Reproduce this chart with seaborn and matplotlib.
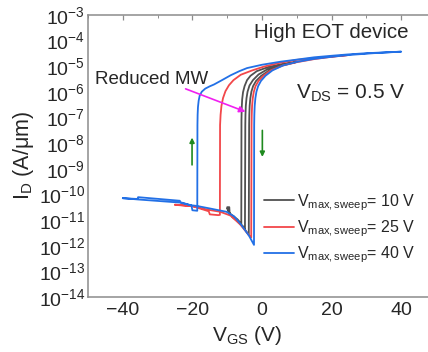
import matplotlib
matplotlib.use("Agg")
import matplotlib.pyplot as plt
import matplotlib.ticker as mticker
import numpy as np
import pandas as pd
import seaborn as sns

# values: V_GS (V) and log10(I_D / (A/um)), in sweep order
vgs_10 = [-10, -9.5, -8.5, -7, -5.5, -4.5, -3.8,
          -3.7, -3.65, -3.55, -3.35, -3.05, -2.55, -1.7, -0.2, 2, 5, 10,
          6, 2, -1.5, -3.3, -4.3, -5.0, -5.45, -5.7, -5.83, -5.9,
          -5.95, -7, -8.5, -9.3, -9.4, -10,
          -9.5, -8.5, -7, -5.5, -4.9,
          -4.8, -4.75, -4.65, -4.45, -4.15, -3.6, -2.6, -1, 1.5, 5, 10]
log_id_10 = [-10.55, -10.7, -10.88, -11.05, -11.25, -11.45, -11.58,
             -7.3, -6.9, -6.55, -6.25, -6.0, -5.78, -5.58, -5.38, -5.18, -5.0, -4.84,
             -4.92, -5.03, -5.2, -5.38, -5.55, -5.78, -6.02, -6.3, -6.65, -7.1,
             -11.15, -10.98, -10.82, -10.75, -10.50, -10.50,
             -10.7, -10.88, -11.05, -11.25, -11.35,
             -7.3, -6.9, -6.55, -6.25, -6.0, -5.76, -5.55, -5.33, -5.13, -4.97, -4.84]

vgs_25 = [-25, -20, -15.5, -12, -9, -6.3, -3.5, -3.1,
          -3.0, -2.95, -2.85, -2.65, -2.35, -1.85, -1.0, 0.4, 2.5, 6, 10, 15, 20, 25,
          20, 15, 10, 5, 0.6, -3, -6.1, -8.2, -9.5, -10.5, -11.2, -11.65, -11.9, -12.05,
          -12.1, -12.6, -15, -15.3, -20, -25]
log_id_25 = [-10.40, -10.46, -10.60, -10.68, -10.83, -11.17, -11.63, -11.68,
             -7.3, -6.9, -6.55, -6.25, -6.0, -5.78, -5.58, -5.38, -5.17, -4.98, -4.85, -4.73, -4.64, -4.57,
             -4.63, -4.69, -4.76, -4.88, -5.02, -5.18, -5.34, -5.55, -5.75, -5.98, -6.25, -6.55, -6.9, -7.3,
             -10.80, -10.81, -10.78, -10.66, -10.46, -10.41]

vgs_40 = [-40, -35.6, -23.6, -20.7, -18.8, -15, -10.2, -8.0, -6.0, -3.7, -2.3,
          -2.25, -2.2, -2.1, -1.9, -1.6, -1.1, -0.3, 1, 3, 6, 10, 15, 20, 25, 32, 40,
          30, 24.5, 20, 15, 10, 5.4, 0, -4.3, -6.5, -9, -11.5, -13.8, -15.0, -16.3, -17.3, -17.9, -18.2,
          -18.4, -18.5, -18.55,
          -18.6, -20.0, -20.3, -23.6, -23.6, -35.6, -35.8, -40]
log_id_40 = [-10.15, -10.20, -10.32, -10.42, -10.45, -10.55, -10.68, -10.86, -11.18, -11.62, -11.97,
             -7.3, -6.9, -6.55, -6.25, -6.0, -5.78, -5.58, -5.38, -5.17, -4.98, -4.84, -4.72, -4.64, -4.57,
             -4.5, -4.44,
             -4.50, -4.55, -4.60, -4.66, -4.75, -4.83, -4.95, -5.08, -5.2, -5.36, -5.55, -5.72, -5.79, -5.88,
             -6.0, -6.15, -6.35, -6.6, -6.9, -7.3,
             -10.64, -10.62, -10.43, -10.30, -10.25, -10.11, -10.18, -10.15]

sweep_labels = [r"V$_{\mathregular{max,sweep}}$= 10 V",
                r"V$_{\mathregular{max,sweep}}$= 25 V",
                r"V$_{\mathregular{max,sweep}}$= 40 V"]
sweep_colors = ["#505050", "#f2474a", "#2270e6"]

x_ticks = [-40, -20, 0, 20, 40]

frames = []
for lab, v, li in zip(sweep_labels, [vgs_10, vgs_25, vgs_40], [log_id_10, log_id_25, log_id_40]):
    frames.append(pd.DataFrame({"vgs": v, "id": 10.0 ** np.array(li), "sweep": lab}))
df = pd.concat(frames, ignore_index=True)

sns.set_style("white")
plt.rcParams["font.family"] = ["Liberation Sans", "DejaVu Sans"]
plt.rcParams["mathtext.fontset"] = "custom"
plt.rcParams["mathtext.rm"] = "Liberation Sans"
plt.rcParams["mathtext.it"] = "Liberation Sans:italic"
plt.rcParams["mathtext.bf"] = "Liberation Sans:bold"

fig = plt.figure(figsize=(4.28, 3.52), dpi=100)
ax = fig.add_axes([88 / 428, 1 - 297 / 352, 348 / 428, 282.3 / 352])

sns.lineplot(data=df, x="vgs", y="id", hue="sweep", hue_order=sweep_labels,
             palette=sweep_colors, sort=False, estimator=None, lw=1.3, ax=ax)

ax.set_yscale("log")
ax.set_xlim(-50, 50)
ax.set_ylim(1e-14, 1e-3)
ax.set_xticks(x_ticks)
ax.xaxis.set_minor_locator(mticker.MultipleLocator(10))
ax.yaxis.set_major_locator(mticker.LogLocator(base=10, numticks=30))
ax.yaxis.set_minor_locator(mticker.LogLocator(base=10, subs=np.arange(2, 10), numticks=30))
ax.yaxis.set_minor_formatter(mticker.NullFormatter())

for sp in ax.spines.values():
    sp.set_color("#8c8c8c")
    sp.set_linewidth(1.1)
ax.tick_params(which="both", direction="in", top=True, right=True, color="#8c8c8c", labelsize=14)
ax.tick_params(which="major", length=3.5, width=0.9)
ax.tick_params(which="minor", length=1.8, width=0.7)
ax.tick_params(axis="y", pad=2)

ax.set_xlabel(r"V$_{\mathregular{GS}}$ (V)", fontsize=15)
ax.set_ylabel(r"I$_{\mathregular{D}}$ (A/μm)", fontsize=15.5)
ax.xaxis.set_label_coords(0.458, -0.095)
ax.yaxis.set_label_coords(-0.15, 0.5)

# annotations
ax.annotate("", xy=(-4.0, 10 ** -6.82), xytext=(-22.7, 10 ** -5.85),
            arrowprops=dict(arrowstyle="-|>", color="#f020f0", lw=1.2, mutation_scale=9))
ax.annotate("", xy=(-20.1, 10 ** -7.68), xytext=(-20.1, 10 ** -8.96),
            arrowprops=dict(arrowstyle="-|>", color="#1f8a1f", lw=1.2, mutation_scale=7))
ax.annotate("", xy=(0.1, 10 ** -8.65), xytext=(0.1, 10 ** -7.40),
            arrowprops=dict(arrowstyle="-|>", color="#1f8a1f", lw=1.2, mutation_scale=7))

fig.text(254 / 428, 1 - 38.3 / 352, "High EOT device", fontsize=14.8, va="baseline")
fig.text(296 / 428, 1 - 98.3 / 352, r"V$_{\mathregular{DS}}$ = 0.5 V", fontsize=15, va="baseline")
fig.text(95 / 428, 1 - 84 / 352, "Reduced MW", fontsize=13.5, va="baseline")

ax.legend(frameon=False, loc="upper left", bbox_to_anchor=(264 / 428, 1 - 192 / 352),
          bbox_transform=fig.transFigure, fontsize=11.5, handlelength=1.9, handletextpad=0.15,
          labelspacing=0.35, borderpad=0, borderaxespad=0)

fig.savefig("out.png", dpi=100)
plt.close(fig)
